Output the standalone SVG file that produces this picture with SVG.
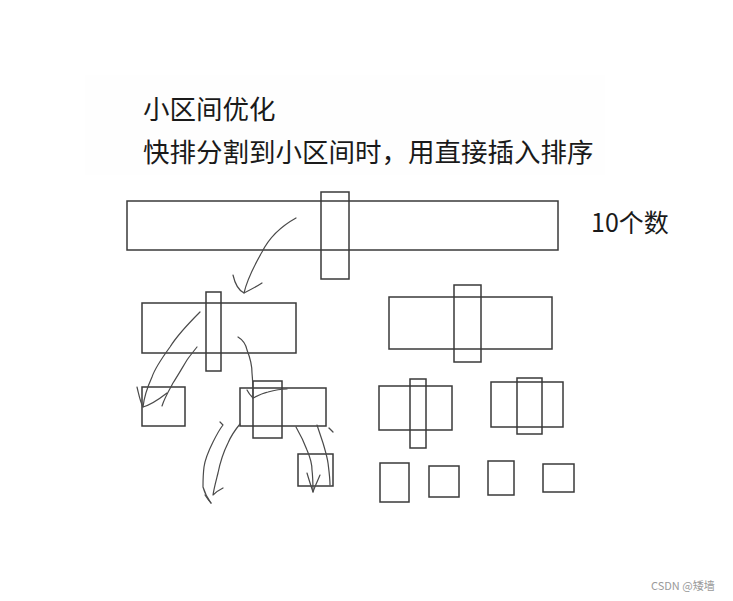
<svg xmlns="http://www.w3.org/2000/svg" width="733" height="601" viewBox="0 0 733 601">
<style>
.box{fill:none;stroke:#3a3a3a;stroke-width:1.5}
.ink{fill:none;stroke:#4a4a4a;stroke-width:1.2;stroke-linecap:round;stroke-linejoin:round}
.t{font-family:"Noto Sans CJK SC","Microsoft YaHei",sans-serif;fill:#1a1a1a}
.wm{font-family:"Noto Sans CJK SC","Liberation Sans",sans-serif;fill:#9a9a9a}
</style>
<rect width="733" height="601" fill="#ffffff"/>
<rect x="85" y="75" width="520" height="100" fill="#fefefe"/>
<g id="title">
<text class="t" x="143" y="119" font-size="26.5">小区间优化</text>
<text class="t" x="143" y="162" font-size="26.5">快排分割到小区间时，用直接插入排序</text>
</g>
<g id="label-10">
<text class="t" x="591" y="232" font-size="25">10个数</text>
</g>
<g id="level0">
<rect class="box" x="127" y="201" width="431" height="49"/>
<rect class="box" x="321" y="192" width="28" height="87"/>
</g>
<g id="level1-left">
<rect class="box" x="142" y="303" width="154" height="50"/>
<rect class="box" x="206" y="292" width="15" height="79"/>
</g>
<g id="level1-right">
<rect class="box" x="389" y="297" width="163" height="52"/>
<rect class="box" x="454" y="285" width="27" height="77"/>
</g>
<g id="level2-a">
<rect class="box" x="142" y="387" width="43" height="39"/>
</g>
<g id="level2-b">
<rect class="box" x="240" y="388" width="86" height="38"/>
<rect class="box" x="253" y="381" width="29" height="57"/>
</g>
<g id="level2-c">
<rect class="box" x="379" y="386" width="73" height="44"/>
<rect class="box" x="410" y="379" width="16" height="69"/>
</g>
<g id="level2-d">
<rect class="box" x="491" y="382" width="72" height="45"/>
<rect class="box" x="517" y="378" width="25" height="56"/>
</g>
<g id="level3-a">
<rect class="box" x="298" y="454" width="35" height="32"/>
</g>
<g id="level3-b">
<rect class="box" x="380" y="463" width="29" height="39"/>
</g>
<g id="level3-c">
<rect class="box" x="429" y="466" width="30" height="31"/>
</g>
<g id="level3-d">
<rect class="box" x="488" y="461" width="26" height="34"/>
</g>
<g id="level3-e">
<rect class="box" x="543" y="464" width="31" height="28"/>
</g>
<g id="connectors">
<path class="ink" d="M296,218 C278,228 268,240 262,252 C254,266 247,280 244,293"/>
<path class="ink" d="M233,275 C235,284 238,290 244,293 C250,290 256,287 262,283"/>
<path class="ink" d="M200,312 C190,322 178,334 170,347 C162,358 155,368 152,377 C147,388 144,398 143,407"/>
<path class="ink" d="M137,387 C139,395 140,401 143,407 C150,405 158,400 167,393"/>
<path class="ink" d="M197,347 C193,352 189,357 187,360 C181,370 177,377 173,383 C168,392 164,399 162,406"/>
<path class="ink" d="M238,337 C243,340 246,345 247,350 C251,360 252,368 252,373 C253,383 253,391 253,398"/>
<path class="ink" d="M247,390 C249,394 251,396 253,398 C259,395 264,393 268,392 C275,390 281,389 287,389"/>
<path class="ink" d="M220,422 C221,423 222,424 223,425 C219,430 216,436 213,442 C208,452 205,460 204,467 C203,475 203,481 203,487 C205,494 208,499 211,503"/>
<path class="ink" d="M240,424 C235,430 231,436 228,443 C223,453 220,463 218,473 C216,481 214,488 213,495 C216,492 219,490 223,488"/>
<path class="ink" d="M205,495 C207,498 209,501 211,503"/>
<path class="ink" d="M296,427 C300,434 304,442 307,450 C310,457 312,463 312,470 C313,478 313,485 313,492"/>
<path class="ink" d="M307,473 C309,480 311,486 313,492 C315,486 318,480 320,475"/>
<path class="ink" d="M317,425 C319,431 321,437 323,443 C325,450 327,456 328,463 C329,471 330,478 330,485"/>
<path class="ink" d="M329,428 L333,432"/>
</g>
<g id="watermark">
<text class="wm" x="651" y="590" font-size="11">CSDN @矮墙</text>
</g>
</svg>
